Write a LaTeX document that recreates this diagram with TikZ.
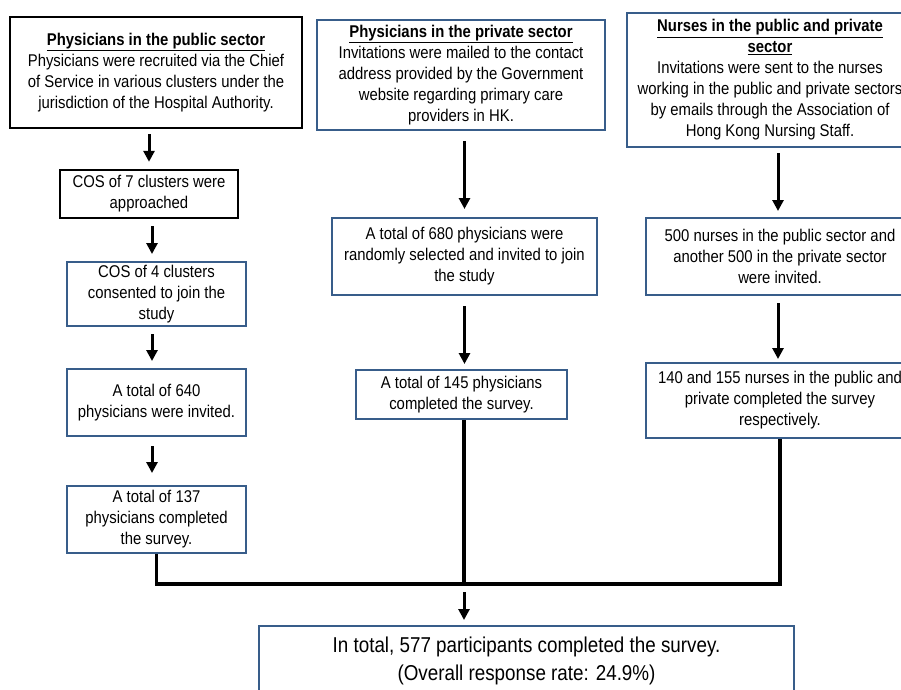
\documentclass[tikz,border=0pt]{standalone}
\usepackage{fontspec}
\setmainfont{Liberation Sans}[FakeStretch=0.875]
\usepackage{tikz}
\usetikzlibrary{arrows.meta, positioning, calc}

\definecolor{boxblue}{RGB}{56,93,138}

\begin{document}
\begin{tikzpicture}[x=1pt, y=-1pt,
  every node/.style={inner sep=0pt, align=center, font=\fontsize{17}{21}\selectfont},
  blkbox/.style={draw=black, line width=2.4pt},
  bluebox/.style={draw=boxblue, line width=2pt},
  flow/.style={-{Triangle[width=11pt,length=11pt]}, line width=3pt},
  merge/.style={line width=3.5pt}]
  \useasboundingbox (0,0) rectangle (901,689);
  % --- public sector physicians ---
  \node[blkbox, minimum width=292pt, minimum height=111pt] (pub) at (156,72.5)
    {\underline{\textbf{Physicians in the public sector}}\\
     Physicians were recruited via the Chief\\
     of Service in various clusters under the\\
     jurisdiction of the Hospital Authority.};
  \node[blkbox, minimum width=178pt, minimum height=48pt] (cos7) at (149,194)
    {COS of 7 clusters were\\ approached};
  \node[bluebox, minimum width=179pt, minimum height=64pt] (cos4) at (156.5,294)
    {COS of 4 clusters\\ consented to join the\\ study};
  \node[bluebox, minimum width=179pt, minimum height=67pt] (inv640) at (156.5,402.5)
    {A total of 640\\ physicians were invited.};
  \node[bluebox, minimum width=179pt, minimum height=67pt] (done137) at (156.5,519.5)
    {A total of 137\\ physicians completed\\ the survey.};
  \draw[flow, shorten <=5pt, shorten >=7pt] (pub.south -| cos7) -- (cos7.north);
  \draw[flow, shorten <=7pt, shorten >=7pt] (cos7.south -| 152,0) -- (cos4.north -| 152,0);
  \draw[flow, shorten <=7pt, shorten >=7pt] (cos4.south -| 152,0) -- (inv640.north -| 152,0);
  \draw[flow, shorten <=9pt, shorten >=12pt] (inv640.south -| 152,0) -- (done137.north -| 152,0);
  % --- private sector physicians ---
  \node[bluebox, minimum width=288pt, minimum height=110pt] (priv) at (461,75)
    {\underline{\textbf{Physicians in the private sector}}\\
     Invitations were mailed to the contact\\
     address provided by the Government\\
     website regarding primary care\\
     providers in HK.};
  \node[bluebox, minimum width=265pt, minimum height=77pt] (inv680) at (464.5,256.5)
    {A total of 680 physicians were\\ randomly selected and invited to join\\ the study};
  \node[bluebox, minimum width=211pt, minimum height=49pt] (done145) at (461.5,394.5)
    {A total of 145 physicians\\ completed the survey.};
  \draw[flow, shorten <=10pt, shorten >=8pt] (priv.south -| inv680) -- (inv680.north);
  \draw[flow, shorten <=10pt, shorten >=5pt] (inv680.south) -- (inv680.south |- done145.north);
  % --- nurses ---
  \node[bluebox, minimum width=286pt, minimum height=134pt] (nurse) at (770,80)
    {\underline{\textbf{Nurses in the public and private}}\\
     \underline{\textbf{sector}}\\
     Invitations were sent to the nurses\\
     working in the public and private sectors\\
     by emails through the Association of\\
     Hong Kong Nursing Staff.};
  \node[bluebox, minimum width=268pt, minimum height=77pt] (inv1000) at (780,256.5)
    {500 nurses in the public sector and\\ another 500 in the private sector\\ were invited.};
  \node[bluebox, minimum width=268pt, minimum height=75pt] (done295) at (780,400.5)
    {140 and 155 nurses in the public and\\ private completed the survey\\ respectively.};
  \draw[flow, shorten <=5pt, shorten >=6pt] (nurse.south -| 778,0) -- (inv1000.north -| 778,0);
  \draw[flow, shorten <=7pt, shorten >=3pt] (inv1000.south -| 778,0) -- (done295.north -| 778,0);
  % --- merge ---
  \coordinate (join) at (464,584);
  \node[bluebox, minimum width=535pt, minimum height=70pt,
        font=\fontsize{21.5}{28}\selectfont] (total) at (526.5,661)
    {In total, 577 participants completed the survey.\\ (Overall response rate: 24.9\%)};
  \draw[merge] (done137.south) |- (join -| done295.south) -- (done295.south);
  \draw[merge] (done145.south -| join) -- (join);
  \draw[flow, shorten <=8pt, shorten >=5pt] (join) -- (join |- total.north);
\end{tikzpicture}
\end{document}
